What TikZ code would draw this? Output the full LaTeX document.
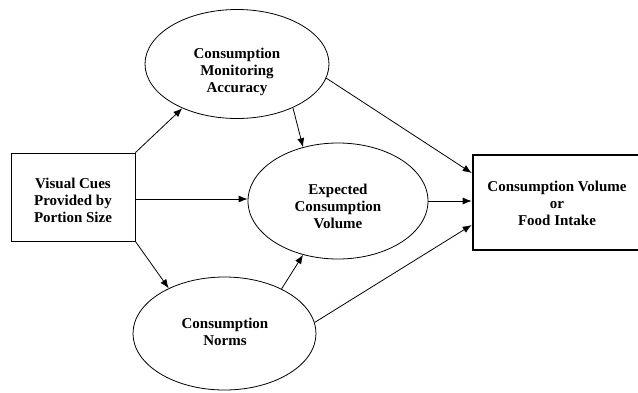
\documentclass[tikz,border=0pt]{standalone}
\usepackage{fontspec}
\setmainfont{Liberation Serif}
\usetikzlibrary{shapes.geometric,arrows.meta}
\begin{document}
\begin{tikzpicture}[x=1pt,y=-1pt,
  lbl/.style={font=\bfseries\fontsize{15}{17}\selectfont, align=center, inner sep=0pt},
  oval/.style={draw, ellipse, line width=0.8pt, inner sep=0pt},
  conn/.style={line width=0.8pt, -{Latex[length=9pt,width=7pt]}}
]
\useasboundingbox (0,0) rectangle (638,392);
% boxes
\node[draw, line width=0.8pt, minimum width=124pt, minimum height=88pt] (cues) at (73,197) {};
\node[lbl] (cuesT) at (73,200) {Visual Cues\\Provided by\\Portion Size};
\node[draw, line width=2.6pt, minimum width=180pt, minimum height=95pt, outer sep=0pt] (out) at (563,202.5) {};
\node[lbl] (outT) at (557,203.5) {Consumption Volume\\or\\Food Intake};
% ellipses
\node[oval, minimum width=184pt, minimum height=109pt] (mon) at (237,64) {};
\node[lbl] (monT) at (237,72) {Consumption\\Monitoring\\Accuracy};
\node[oval, minimum width=180pt, minimum height=116pt] (exp) at (338,201) {};
\node[lbl] (expT) at (338,206) {Expected\\Consumption\\Volume};
\node[oval, minimum width=183pt, minimum height=113pt] (norm) at (224.5,333.5) {};
\node[lbl] (normT) at (225,332) {Consumption\\Norms};
% connectors
\draw[conn] (cues.north east) -- (mon.219);
\draw[conn] (cues.east |- 0,199) -- (exp.west |- 0,199);
\draw[conn] (cues.south east) -- (norm.141);
\draw[conn] (mon.322) -- (exp.123);
\draw[conn] (mon.351) -- ([xshift=-1.3pt]out.west |- 0,173);
\draw[conn] (exp.east) -- ([xshift=-1.3pt]exp.east -| out.west);
\draw[conn] (norm.38) -- (exp.237);
\draw[conn] (norm.7) -- ([xshift=-1.3pt]out.west |- 0,225);
\end{tikzpicture}
\end{document}
